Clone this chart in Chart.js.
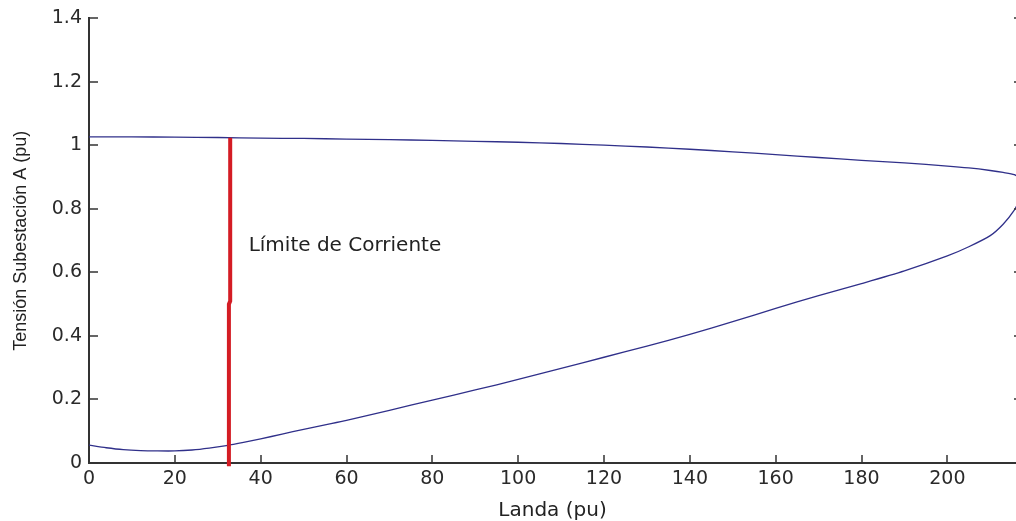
<!DOCTYPE html>
<html>
<head>
<meta charset="utf-8">
<script src="https://cdn.jsdelivr.net/npm/chart.js@4.4.0/dist/chart.umd.min.js"></script>
<style>
  html, body { margin: 0; padding: 0; background: #fff; }
  canvas { display: block; }
</style>
</head>
<body>
<canvas id="graficaTension" width="1016" height="521"></canvas>
<script>
// rama inferior de la curva (lambda creciente)
const landaInferior = [0, 4, 8, 12, 16, 20, 24, 28, 32, 36, 40, 45, 50, 55, 60, 70, 80, 90, 100, 110, 120, 130, 140, 150, 160, 170, 180, 190, 200, 205, 210, 213, 215.6, 217, 217.6];
const tensionInferior = [0.056, 0.048, 0.042, 0.039, 0.038, 0.038, 0.041, 0.047, 0.055, 0.065, 0.076, 0.091, 0.106, 0.12, 0.134, 0.166, 0.198, 0.23, 0.263, 0.298, 0.333, 0.368, 0.405, 0.445, 0.487, 0.527, 0.565, 0.605, 0.652, 0.681, 0.716, 0.752, 0.796, 0.835, 0.86];
// rama superior (lambda decreciente desde la nariz)
const landaSuperior = [217.5, 217, 215.6, 213, 210, 205, 200, 190, 180, 170, 160, 150, 140, 130, 120, 110, 100, 90, 80, 70, 60, 50, 40, 30, 20, 10, 0];
const tensionSuperior = [0.878, 0.893, 0.908, 0.915, 0.921, 0.929, 0.935, 0.945, 0.953, 0.962, 0.971, 0.98, 0.988, 0.995, 1.001, 1.006, 1.01, 1.013, 1.016, 1.018, 1.02, 1.022, 1.023, 1.025, 1.026, 1.027, 1.027];
// linea de limite de corriente
const landaLimite = [32.6, 32.6, 32.9, 32.9];
const tensionLimite = [-0.01, 0.5, 0.51, 1.024];

const xTicks = [0, 20, 40, 60, 80, 100, 120, 140, 160, 180, 200];
const yTicks = [0, 0.2, 0.4, 0.6, 0.8, 1, 1.2, 1.4];
const yTickLabels = ['0', '0.2', '0.4', '0.6', '0.8', '1', '1.2', '1.4'];

const textoLimite = 'Límite de Corriente';
const posTexto = { x: 37.2, y: 0.684 };

const colorEje = '#333';

const curva = [];
for (var i in landaInferior) curva.push({ x: landaInferior[i], y: tensionInferior[i] });
for (var j in landaSuperior) curva.push({ x: landaSuperior[j], y: tensionSuperior[j] });

const limite = [];
for (var k in landaLimite) limite.push({ x: landaLimite[k], y: tensionLimite[k] });

// marcas hacia dentro al estilo matlab + texto
const marcasInternas = {
  id: 'marcasInternas',
  afterDatasetsDraw(chart) {
    const ctx = chart.ctx;
    const area = chart.chartArea;
    const xs = chart.scales.x;
    const ys = chart.scales.y;
    ctx.save();
    ctx.strokeStyle = colorEje;
    ctx.lineWidth = 1.5;
    ctx.beginPath();
    xTicks.forEach(v => {
      const px = Math.round(xs.getPixelForValue(v));
      ctx.moveTo(px, area.bottom);
      ctx.lineTo(px, area.bottom - 8);
    });
    yTicks.forEach(v => {
      const py = Math.round(ys.getPixelForValue(v));
      ctx.moveTo(area.left, py);
      ctx.lineTo(area.left + 9, py);
      ctx.moveTo(area.right, py);
      ctx.lineTo(area.right - 2, py);
    });
    ctx.stroke();

    ctx.fillStyle = '#222';
    ctx.font = '20px "DejaVu Sans"';
    ctx.textAlign = 'left';
    ctx.textBaseline = 'middle';
    ctx.fillText(textoLimite, xs.getPixelForValue(posTexto.x), ys.getPixelForValue(posTexto.y));
    ctx.restore();
  }
};

new Chart(document.getElementById('graficaTension'), {
  type: 'scatter',
  data: {
    datasets: [
      {
        label: 'Limite',
        data: limite,
        showLine: true,
        borderColor: '#d41c24',
        borderWidth: 4,
        pointRadius: 0,
        clip: false
      },
      {
        label: 'Tension',
        data: curva,
        showLine: true,
        borderColor: '#30308a',
        borderWidth: 1.3,
        pointRadius: 0,
        tension: 0.25
      }
    ]
  },
  options: {
    responsive: false,
    animation: false,
    layout: { padding: { top: 15, right: 0, bottom: 0, left: 0 } },
    plugins: {
      legend: { display: false },
      tooltip: { enabled: false }
    },
    scales: {
      x: {
        type: 'linear',
        min: 0,
        max: 216,
        afterBuildTicks: s => { s.ticks = xTicks.map(v => ({ value: v })); },
        afterFit: s => { s.height = 58; },
        grid: { drawOnChartArea: false, drawTicks: false },
        border: { color: colorEje, width: 2 },
        ticks: {
          padding: 5,
          maxRotation: 0,
          color: '#2a2a2a',
          font: { family: 'DejaVu Sans', size: 19 }
        },
        title: {
          display: true,
          text: 'Landa (pu)',
          color: '#222',
          padding: { top: 0, bottom: 0 },
          font: { family: 'DejaVu Sans', size: 20, lineHeight: 1 }
        }
      },
      y: {
        type: 'linear',
        min: 0,
        max: 1.4,
        afterBuildTicks: s => { s.ticks = yTicks.map(v => ({ value: v })); },
        afterFit: s => { s.width = 89; },
        grid: { drawOnChartArea: false, drawTicks: false },
        border: { color: colorEje, width: 2 },
        ticks: {
          padding: 7,
          color: '#2a2a2a',
          font: { family: 'DejaVu Sans', size: 19 },
          callback: (v, idx) => yTickLabels[idx]
        },
        title: {
          display: true,
          text: 'Tensión Subestación A (pu)',
          color: '#222',
          padding: { top: 12, bottom: 0 },
          font: { family: 'Liberation Sans', size: 18, lineHeight: 1 }
        }
      }
    }
  },
  plugins: [marcasInternas]
});
</script>
</body>
</html>
